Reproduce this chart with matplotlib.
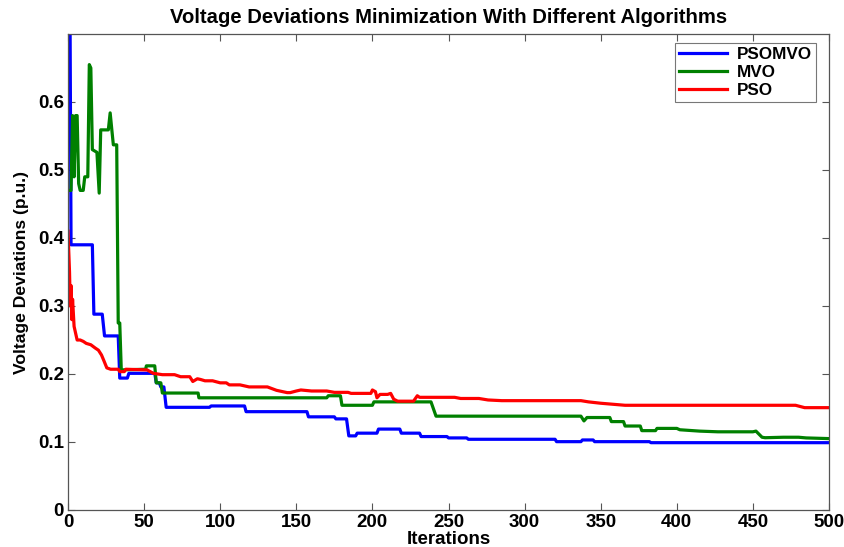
import matplotlib
matplotlib.use("Agg")
import matplotlib.pyplot as plt

# ---- data ----
psomvo_it = [0, 1, 2, 16, 17, 22.5, 24, 33, 34, 39, 40, 57, 58, 60, 61, 63, 64.5, 93, 94, 116, 117,
             157, 158, 175, 176, 183, 184.5, 189, 190, 203, 204, 218, 219, 231, 232, 249, 250, 262,
             263, 320, 321, 337, 338, 345, 346, 382, 383, 500]
psomvo_val = [1.0, 0.9, 0.39, 0.39, 0.288, 0.288, 0.256, 0.256, 0.194, 0.194, 0.201, 0.201, 0.187,
              0.187, 0.181, 0.181, 0.151, 0.151, 0.153, 0.153, 0.1446, 0.1446, 0.137, 0.137, 0.134,
              0.134, 0.109, 0.109, 0.113, 0.113, 0.119, 0.119, 0.113, 0.113, 0.108, 0.108, 0.106,
              0.106, 0.104, 0.104, 0.1005, 0.1005, 0.103, 0.103, 0.1005, 0.1005, 0.099, 0.099]

mvo_it = [0, 2, 3, 4, 5, 6, 7, 8, 10, 11, 13, 14, 15, 16, 19, 20.5, 21.5, 26.5, 27.7, 28.8, 29.8,
          32, 33, 34, 35, 51, 51.5, 57, 58, 61, 62, 85.5, 86, 170, 171, 179, 180, 200, 201, 238.5,
          241.8, 337, 339, 341, 356, 357, 365, 366, 376, 377, 386, 387, 400, 402, 415, 427, 450,
          452, 456, 458, 470, 480, 485, 500]
mvo_val = [0.47, 0.47, 0.58, 0.49, 0.58, 0.58, 0.48, 0.47, 0.47, 0.49, 0.49, 0.655, 0.65, 0.53,
           0.526, 0.466, 0.559, 0.559, 0.584, 0.559, 0.537, 0.537, 0.275, 0.275, 0.206, 0.207,
           0.212, 0.212, 0.187, 0.187, 0.172, 0.172, 0.165, 0.165, 0.168, 0.168, 0.154, 0.154,
           0.159, 0.159, 0.138, 0.138, 0.131, 0.136, 0.136, 0.130, 0.130, 0.1235, 0.1235, 0.1167,
           0.1167, 0.120, 0.120, 0.118, 0.116, 0.115, 0.115, 0.116, 0.107, 0.1063, 0.107, 0.107,
           0.106, 0.105]

pso_it = [0, 1, 1.5, 2, 2.5, 3, 4, 5, 6, 8, 10, 12, 15, 18, 20, 22, 23.5, 25.5, 28, 33, 34, 37, 38,
          52, 56, 62, 70, 74, 80, 82, 85, 87, 90, 95, 100, 104, 106, 113, 119, 131, 137, 144, 146,
          150, 153, 160, 170, 175, 184, 186, 199, 200, 202, 203, 205, 210, 212, 214, 216.6, 227,
          229.5, 231, 254, 258, 270, 276, 285, 337, 342, 350, 366, 478, 484, 500]
pso_val = [0.41, 0.35, 0.30, 0.33, 0.28, 0.31, 0.27, 0.26, 0.25, 0.25, 0.248, 0.245, 0.243, 0.238,
           0.235, 0.228, 0.22, 0.209, 0.207, 0.207, 0.2035, 0.2035, 0.207, 0.206, 0.201, 0.199,
           0.199, 0.196, 0.196, 0.189, 0.193, 0.192, 0.19, 0.19, 0.187, 0.187, 0.184, 0.184, 0.181,
           0.181, 0.176, 0.1726, 0.1726, 0.175, 0.1765, 0.175, 0.175, 0.173, 0.173, 0.1715, 0.1715,
           0.1765, 0.174, 0.165, 0.17, 0.17, 0.1715, 0.163, 0.160, 0.160, 0.168, 0.1657, 0.1657,
           0.164, 0.164, 0.1618, 0.1608, 0.1608, 0.159, 0.157, 0.154, 0.154, 0.1505, 0.1505]

x_ticks = [0, 50, 100, 150, 200, 250, 300, 350, 400, 450, 500]
y_ticks = [0, 0.1, 0.2, 0.3, 0.4, 0.5, 0.6]
y_tick_labels = ["0", "0.1", "0.2", "0.3", "0.4", "0.5", "0.6"]

plt.rcParams['font.family'] = ['Liberation Sans', 'DejaVu Sans']
plt.rcParams['font.weight'] = 'bold'

fig = plt.figure(figsize=(8.44, 5.47), dpi=100)
ax = fig.add_axes([68 / 844, 1 - 510 / 547, (829 - 68) / 844, (510 - 34) / 547])

lw = 2.3
ax.plot(psomvo_it, psomvo_val, color=(0, 0, 1), lw=lw, label='PSOMVO')
ax.plot(mvo_it, mvo_val, color=(0, 0.5, 0), lw=lw, label='MVO')
ax.plot(pso_it, pso_val, color=(1, 0, 0), lw=lw, label='PSO')

ax.set_xlim(0, 500)
ax.set_ylim(0, 0.7)
ax.set_xticks(x_ticks)
ax.set_xticklabels([str(t) for t in x_ticks])
ax.set_yticks(y_ticks)
ax.set_yticklabels(y_tick_labels)
ax.tick_params(direction='in', top=True, right=True, length=5, width=0.8,
               color='#555555', labelsize=13.5, pad=3)
for lab in ax.get_xticklabels() + ax.get_yticklabels():
    lab.set_fontweight('bold')
for s in ax.spines.values():
    s.set_color('#555555')
    s.set_linewidth(0.9)

ax.set_title('Voltage Deviations Minimization With Different Algorithms',
             fontsize=14.6, fontweight='bold', pad=8)
ax.set_xlabel('Iterations', fontsize=13.5, fontweight='bold', labelpad=0)
ax.set_ylabel('Voltage Deviations (p.u.)', fontsize=12.6, fontweight='bold', labelpad=6)

leg = ax.legend(loc='upper right', bbox_to_anchor=(0.9875, 0.988), fancybox=False,
                edgecolor='#555555', fontsize=12.3, handlelength=2.8, borderpad=0.25,
                labelspacing=0.15, handletextpad=0.55, borderaxespad=0.2)
leg.get_frame().set_linewidth(0.8)
for t in leg.get_texts():
    t.set_fontweight('bold')

fig.savefig('out.png', dpi=100)
